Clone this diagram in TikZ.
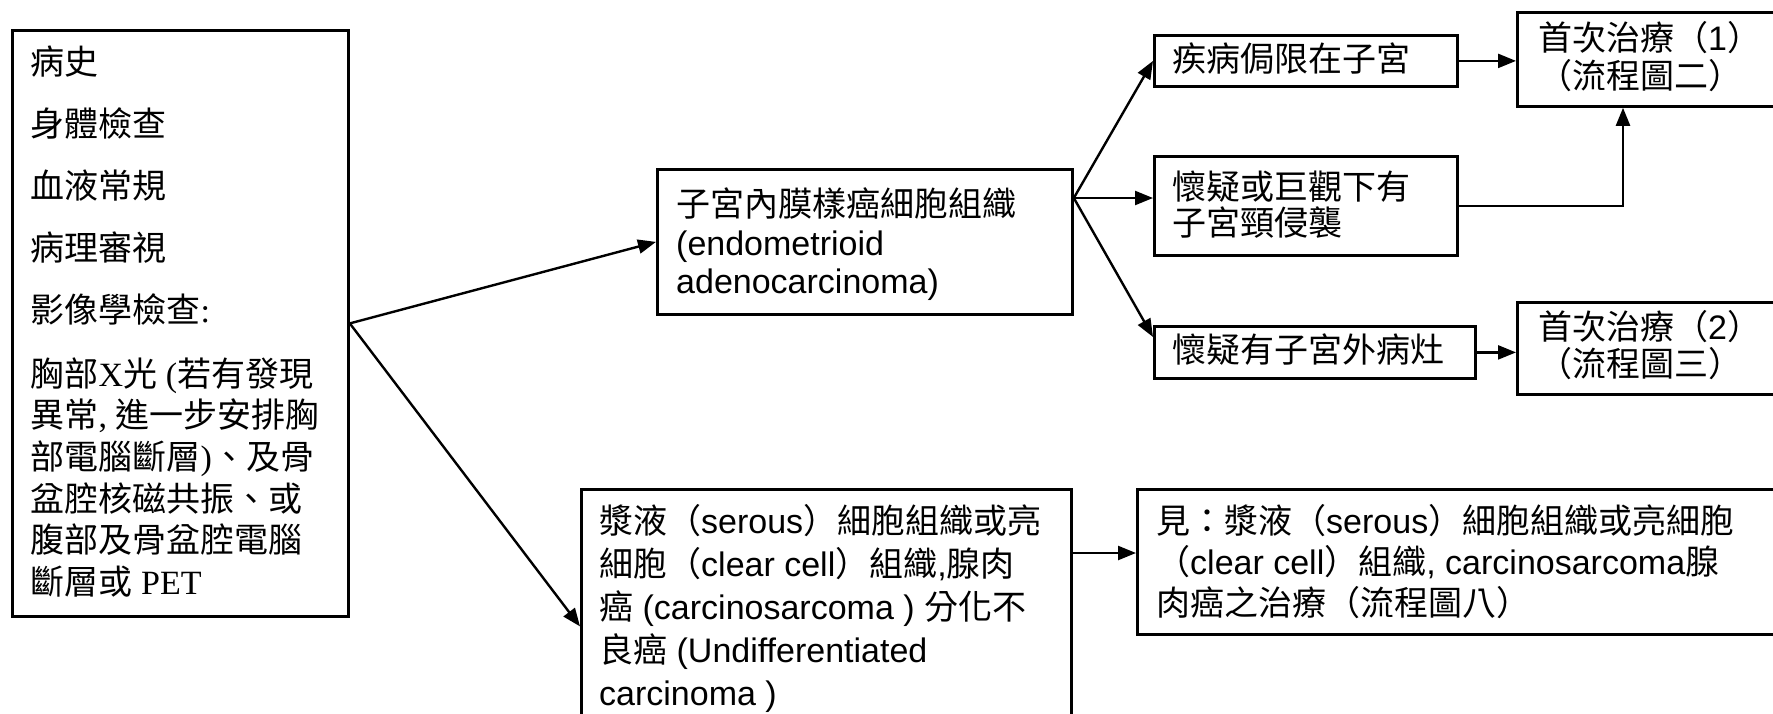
\documentclass[tikz,border=0pt]{standalone}
\usepackage{fontspec}
\setmainfont{Liberation Sans}
\newfontfamily\cjkf{Noto Sans CJK TC}
\newfontfamily\tmsf{Liberation Serif}
\newcommand\C[1]{{\cjkf #1}}
\newcommand\fsz[1]{\fontsize{34bp}{#1bp}\selectfont}
\newcommand\fst{\rule{0pt}{30bp}}
\usetikzlibrary{arrows.meta,calc}
\begin{document}
\begin{tikzpicture}[x=1bp,y=-1bp,
  box/.style={draw,line width=2.8bp,inner sep=0pt,anchor=north west},
  txt/.style={inner sep=0pt,anchor=north west,align=left},
  arr/.style={line width=2.4bp,-{Triangle[length=18bp,width=14bp]}}]
\useasboundingbox (0,0) rectangle (1773,714);
% boxes
\node[box,minimum width=336bp,minimum height=586bp] (L) at (11,29) {};
\node[box,minimum width=415bp,minimum height=145bp] (E) at (656,168) {};
\node[box,minimum width=490bp,minimum height=274bp] (S) at (580,488) {};
\node[box,minimum width=700bp,minimum height=145bp] (V) at (1136,488) {};
\node[box,minimum width=303bp,minimum height=51bp] (B1) at (1153,34) {};
\node[box,minimum width=303bp,minimum height=99bp] (B2) at (1153,155) {};
\node[box,minimum width=321bp,minimum height=52bp] (B3) at (1153,325) {};
\node[box,minimum width=300bp,minimum height=94bp] (T1) at (1516,11) {};
\node[box,minimum width=300bp,minimum height=92bp] (T2) at (1516,301) {};
% texts (north = first baseline - 30)
\node[txt,font={\fsz{41.7}\tmsf}] (Lt) at (30.5,44.5)
 {\fst\C{病史}\\[20.3bp]\C{身體檢查}\\[20.3bp]\C{血液常規}\\[20.3bp]\C{病理審視}\\[20.3bp]\C{影像學檢查}:\\[21.6bp]%
  \C{胸部}X\C{光} (\C{若有發現}\\\C{異常}, \C{進一步安排胸}\\\C{部電腦斷層})\C{、及骨}\\\C{盆腔核磁共振、或}\\\C{腹部及骨盆腔電腦}\\\C{斷層或} PET};
\node[txt,font={\fsz{38.4}}] (Et) at (676,186.5)
 {\fst\C{子宮內膜樣癌細胞組織}\\(endometrioid\\adenocarcinoma)};
\node[txt,font={\fsz{43}}] (St) at (599,503.5)
 {\fst\C{漿液（}serous\C{）細胞組織或亮}\\\C{細胞（}clear cell\C{）組織},\C{腺肉}\\\C{癌} (carcinosarcoma ) \C{分化不}\\\C{良癌} (Undifferentiated\\carcinoma )};
\node[txt,font={\fsz{41}}] (Vt) at (1156,503.5)
 {\fst\C{見：漿液（}serous\C{）細胞組織或亮細胞}\\\C{（}clear cell\C{）組織}, carcinosarcoma\C{腺}\\\C{肉癌之治療（流程圖八）}};
\node[txt,font={\fsz{36}}] (B1t) at (1172,41.5) {\fst\C{疾病侷限在子宮}};
\node[txt,font={\fsz{36}}] (B2t) at (1172,169.5) {\fst\C{懷疑或巨觀下有}\\\C{子宮頸侵襲}};
\node[txt,font={\fsz{36}}] (B3t) at (1172,332.5) {\fst\C{懷疑有子宮外病灶}};
\node[txt,font={\fsz{38}}] (T1t) at (1538,20) {\fst\C{首次治療（}1\C{）}\\\C{（流程圖二）}};
\node[txt,font={\fsz{37}}] (T2t) at (1538,309.5) {\fst\C{首次治療（}2\C{）}\\\C{（流程圖三）}};
% connectors
\coordinate (Eo) at ($(E.north east)+(0,30)$);
\draw[arr] (L.east) -- (E.west);
\draw[arr] (L.east) -- (S.west);
\draw[arr] (Eo) -- (B1.west);
\draw[arr] (Eo) -- (B2.west |- Eo);
\draw[arr] (Eo) -- ($(B3.north west)+(0,12)$);
\draw[arr] (B1.east) -- (T1.west |- B1.east);
\draw[arr] (B2.east) -| ($(T1.south west)+(107,0)$);
\draw[arr] (B3.east) -- (T2.west |- B3.east);
\draw[arr] ($(S.north east)+(0,65)$) -- ($(V.north west)+(0,65)$);
\end{tikzpicture}
\end{document}
